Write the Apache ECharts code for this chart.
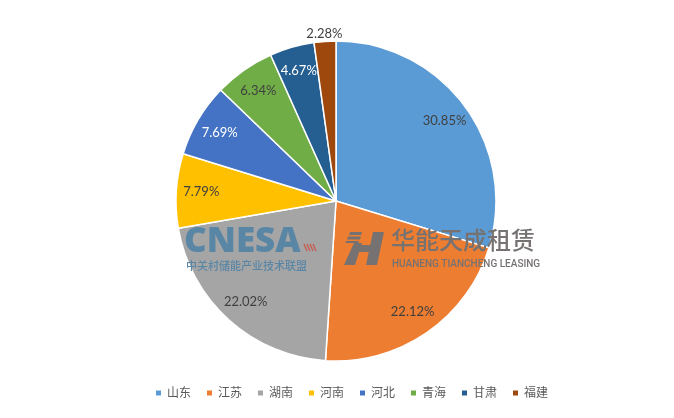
<!DOCTYPE html>
<html>
<head>
<meta charset="utf-8">
<script src="https://cdn.jsdelivr.net/npm/echarts@6/dist/echarts.min.js"></script>
<style>html,body{margin:0;padding:0;background:#fff}#c{width:674px;height:418px}</style>
</head>
<body>
<div id="c"></div>
<script>
const categories = ['山东', '江苏', '湖南', '河南', '河北', '青海', '甘肃', '福建'];
const shares = [30.85, 22.12, 22.02, 7.79, 7.69, 6.34, 4.67, 2.28];
const colors = ['#5B9BD5', '#ED7D31', '#A5A5A5', '#FFC000', '#4472C4', '#70AD47', '#255E91', '#9E480E'];
const labelColors = ['#404040', '#404040', '#404040', '#404040', '#ffffff', '#404040', '#ffffff', '#404040'];

const chart = echarts.init(document.getElementById('c'), null, {renderer: 'canvas'});
const font = 'Lato, "Noto Sans CJK SC", sans-serif';
const lastIdx = categories.length - 1;

const pieData = categories.map((n, i) => ({name: n, value: shares[i], itemStyle: {color: colors[i]}}));
const labelData = categories.map((n, i) => {
  const d = {
    name: n, value: shares[i],
    itemStyle: {color: 'rgba(0,0,0,0)', borderWidth: 0},
    label: {color: labelColors[i]}
  };
  if (i === lastIdx) {
    d.label = {position: 'outside', color: '#404040', distanceToLabelLine: 0};
    d.labelLine = {show: false, length: 8, length2: 0};
  }
  return d;
});

const wmBlue = '#5A86A6';
const wmGray = '#767272';
const wmRed = '#C8594A';
const Z = 100;

chart.setOption({
  animation: false,
  backgroundColor: '#fff',
  color: colors,
  legend: {
    left: 149, bottom: 14,
    icon: 'rect', itemWidth: 7, itemHeight: 7, itemGap: 14,
    textStyle: {color: '#595959', fontSize: 12, fontFamily: font, padding: [0, 0, 0, 0]},
    data: categories
  },
  series: [
    {
      type: 'pie', center: [336, 201], radius: [0, 160], startAngle: 90, clockwise: true,
      label: {show: false}, labelLine: {show: false}, silent: true,
      itemStyle: {borderColor: '#fff', borderWidth: 1.5},
      data: pieData
    },
    {
      type: 'pie', center: [336, 201], radius: [104, 160], startAngle: 90, clockwise: true,
      silent: true, avoidLabelOverlap: false, legendHoverLink: false,
      label: {show: true, position: 'inside', fontSize: 13, fontFamily: font,
        formatter: p => p.value.toFixed(2) + '%'},
      labelLine: {show: false},
      labelLayout: p => (p.dataIndex === lastIdx ? {align: 'center'} : {}),
      emphasis: {disabled: true},
      data: labelData
    }
  ],
  graphic: [
    // CNESA watermark
    {type: 'text', left: 184, top: 225, z: Z, style: {text: 'CNESA', fill: wmBlue,
      font: '900 35px "Open Sans", "Liberation Sans", sans-serif', letterSpacing: -0.3}},
    {type: 'line', z: Z, shape: {x1: 304, y1: 244, x2: 307, y2: 251}, style: {stroke: wmRed, lineWidth: 1.3}},
    {type: 'line', z: Z, shape: {x1: 307, y1: 244, x2: 310, y2: 251}, style: {stroke: wmRed, lineWidth: 1.3}},
    {type: 'line', z: Z, shape: {x1: 310, y1: 244, x2: 313, y2: 251}, style: {stroke: wmRed, lineWidth: 1.3}},
    {type: 'line', z: Z, shape: {x1: 313, y1: 244, x2: 316, y2: 251}, style: {stroke: wmRed, lineWidth: 1.3}},
    {type: 'text', left: 186, top: 260, z: Z, style: {text: '中关村储能产业技术联盟', fill: wmBlue,
      font: '500 11px "Noto Sans CJK SC", sans-serif', letterSpacing: 0.8}},
    // Huaneng watermark
    {type: 'polygon', z: Z, shape: {points: [[354, 243], [362, 243], [355, 265], [344, 265]]}, style: {fill: wmGray}},
    {type: 'polygon', z: Z, shape: {points: [[350, 232], [362, 232], [361, 235], [349, 235]]}, style: {fill: wmGray}},
    {type: 'polygon', z: Z, shape: {points: [[348, 236.5], [361, 236.5], [360, 239.5], [347, 239.5]]}, style: {fill: wmGray}},
    {type: 'polygon', z: Z, shape: {points: [[346, 241], [359, 241], [358.4, 243], [345.4, 243]]}, style: {fill: wmGray}},
    {type: 'polygon', z: Z, shape: {points: [[373, 232], [384, 232], [377, 265], [366, 265]]}, style: {fill: wmGray}},
    {type: 'polygon', z: Z, shape: {points: [[358, 245], [377, 245], [375.4, 252], [356, 252]]}, style: {fill: wmGray}},
    {type: 'text', left: 391, top: 228, z: Z, style: {text: '华能天成租赁', fill: wmGray,
      font: '500 24px "Noto Sans CJK SC", sans-serif', letterSpacing: 1}},
    {type: 'text', left: 392, top: 259, z: Z, style: {text: 'HUANENG TIANCHENG LEASING', fill: wmGray,
      font: '500 10px Roboto, sans-serif', letterSpacing: 0.3}}
  ]
});
</script>
</body>
</html>
